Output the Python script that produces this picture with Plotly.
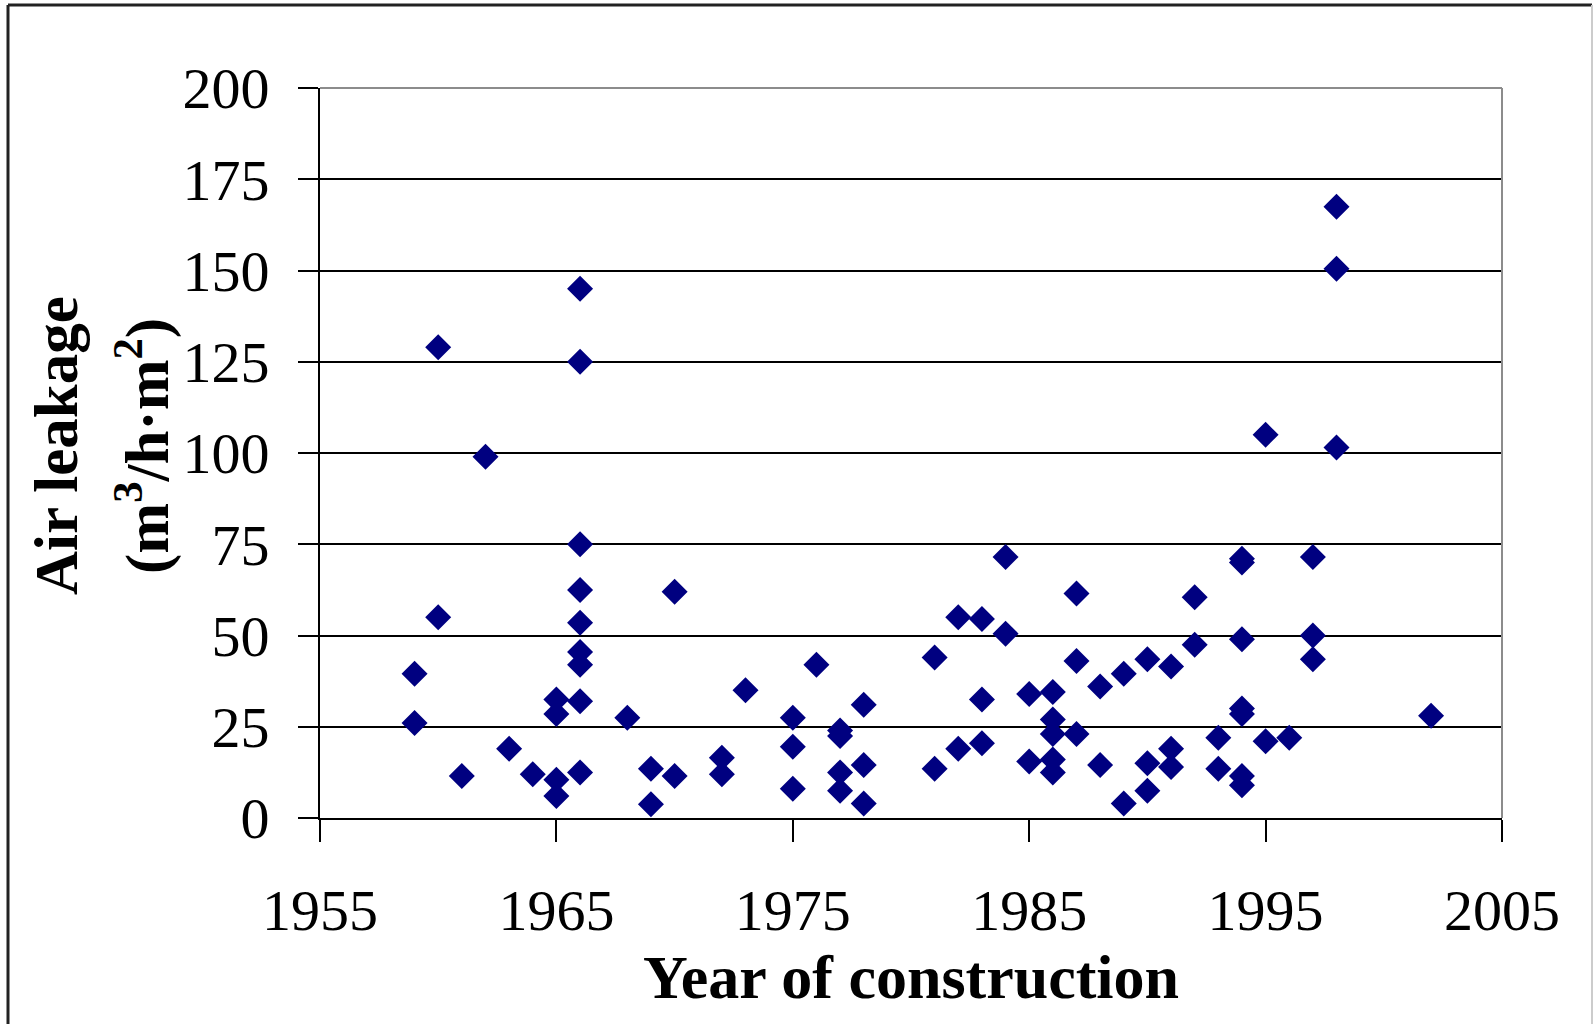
import plotly.graph_objects as go

year = [1959, 1959,
        1960, 1960,
        1961, 1962, 1963, 1964,
        1965, 1965, 1965, 1965,
        1966, 1966, 1966, 1966, 1966, 1966, 1966, 1966, 1966,
        1968, 1969, 1969, 1970, 1970,
        1972, 1972, 1973,
        1975, 1975, 1975, 1976,
        1977, 1977, 1977, 1977,
        1978, 1978, 1978,
        1981, 1981, 1982, 1982,
        1983, 1983, 1983, 1984, 1984,
        1985, 1985,
        1986, 1986, 1986, 1986, 1986,
        1987, 1987, 1987, 1988, 1988,
        1989, 1989, 1990, 1990, 1990,
        1991, 1991, 1991, 1992, 1992,
        1993, 1993,
        1994, 1994, 1994, 1994, 1994, 1994, 1994,
        1995, 1995, 1996,
        1997, 1997, 1997,
        1998, 1998, 1998,
        2002]
leakage = [39.5, 26,
           129, 55,
           11.5, 99, 19, 12,
           32.5, 28.5, 10.5, 6,
           145, 125, 75, 62.5, 53.5, 45.5, 42, 32, 12.5,
           27.5, 13.5, 3.8, 62, 11.5,
           16.5, 12, 35,
           27.5, 19.5, 8, 42,
           24, 22.5, 12.5, 7.5,
           31, 14.5, 4,
           44, 13.5, 55, 19,
           54.5, 32.5, 20.5, 71.5, 50.5,
           34, 15.5,
           34.5, 27, 23, 16, 12.5,
           61.5, 43, 23, 36, 14.5,
           39.5, 4, 43.5, 15, 7.5,
           41.5, 19, 14, 60.5, 47.5,
           22, 13.5,
           71, 70, 49, 30, 28.5, 11.5, 9,
           105, 21, 22,
           71.5, 50, 43.5,
           167.5, 150.5, 101.5,
           28]

x_ticks = [1955, 1965, 1975, 1985, 1995, 2005]
y_ticks = [0, 25, 50, 75, 100, 125, 150, 175, 200]

W, H = 1593, 1024
ml, mr, mt, mb = 320, 91, 88, 206
pw, ph = W - ml - mr, H - mt - mb


def px_x(px):
    return (px - ml) / pw


def px_y(py):
    return (mt + ph - py) / ph


serif = "Liberation Serif, Times New Roman, serif"

fig = go.Figure()
fig.add_trace(go.Scatter(
    x=year, y=leakage,
    mode="markers",
    marker=dict(symbol="diamond", size=20, color="#000080",
                line=dict(width=0)),
    name="buildings",
    showlegend=False))

fig.update_layout(
    width=W, height=H,
    margin=dict(l=ml, r=mr, t=mt, b=mb, pad=0),
    paper_bgcolor="white",
    plot_bgcolor="white",
    font=dict(family=serif, color="black"),
    xaxis=dict(range=[1955, 2005], tickvals=x_ticks,
               ticks="outside", ticklen=22, tickwidth=2, tickcolor="black",
               showline=True, linecolor="black", linewidth=2,
               showgrid=False, zeroline=False,
               tickfont=dict(size=58, family=serif),
               ticklabelstandoff=18,
               title=dict(text="<b>Year of construction</b>",
                          font=dict(size=62, family=serif),
                          standoff=0)),
    yaxis=dict(range=[0, 200], tickvals=y_ticks,
               ticks="outside", ticklen=20, tickwidth=2, tickcolor="black",
               showline=True, linecolor="black", linewidth=2,
               showgrid=True, gridcolor="black", gridwidth=2,
               zeroline=False,
               tickfont=dict(size=58, family=serif),
               ticklabelstandoff=17),
)

# y title as two rotated lines
fig.add_annotation(text="<b>Air leakage</b>", xref="paper", yref="paper",
                   x=px_x(56), y=px_y(446), textangle=-90,
                   xanchor="center", yanchor="middle", showarrow=False,
                   font=dict(size=61, family=serif))
fig.add_annotation(text="<b>(m<sup>3</sup>/h·m<sup>2</sup>)</b>",
                   xref="paper", yref="paper",
                   x=px_x(143), y=px_y(446), textangle=-90,
                   xanchor="center", yanchor="middle", showarrow=False,
                   font=dict(size=61, family=serif))

# gray plot-area border on top and right
fig.add_shape(type="line", xref="paper", yref="paper", x0=0, x1=1, y0=1, y1=1,
              line=dict(color="#8c8c8c", width=2), layer="above")
fig.add_shape(type="line", xref="paper", yref="paper", x0=1, x1=1, y0=0, y1=1,
              line=dict(color="#8c8c8c", width=2), layer="above")

# outer chart frame (cropped at bottom)
fig.add_shape(type="line", xref="paper", yref="paper",
              x0=px_x(8), x1=px_x(8), y0=px_y(5), y1=px_y(1030),
              line=dict(color="#222222", width=3))
fig.add_shape(type="line", xref="paper", yref="paper",
              x0=px_x(8), x1=px_x(1592), y0=px_y(5), y1=px_y(5),
              line=dict(color="#222222", width=3))
fig.add_shape(type="line", xref="paper", yref="paper",
              x0=px_x(1592), x1=px_x(1592), y0=px_y(5), y1=px_y(1030),
              line=dict(color="#cccccc", width=2))

fig.write_html("out.html", config=dict(displayModeBar=False),
               post_script="document.body.style.margin='0';")
